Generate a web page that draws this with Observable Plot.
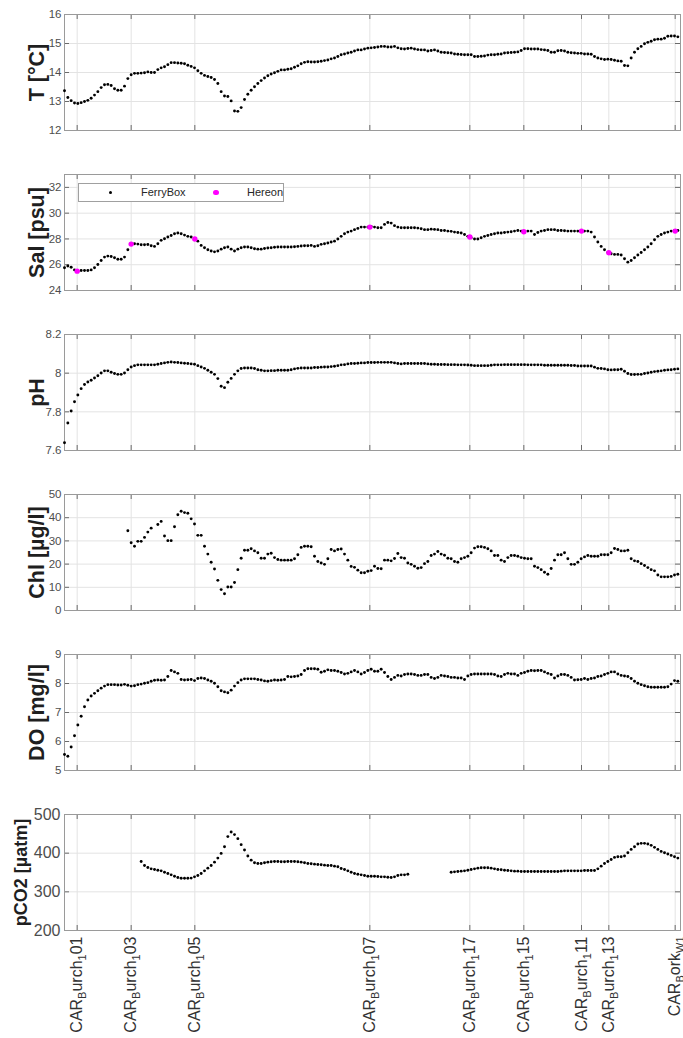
<!DOCTYPE html>
<html><head><meta charset="utf-8">
<script src="https://cdn.jsdelivr.net/npm/d3@7"></script>
<script src="https://cdn.jsdelivr.net/npm/@observablehq/plot@0.6"></script>
<style>
body{margin:0;background:#fff;}
#wrap{position:relative;width:683px;height:1038px;overflow:hidden;font-family:"Liberation Sans",Arial,sans-serif;}
#wrap svg{display:block;}
.legend{position:absolute;left:78px;top:183px;width:204px;height:17px;border:1px solid #a0a0a0;background:#fff;font-size:11px;color:#262626;}
.legend .d{position:absolute;border-radius:50%;}
.legend .t{position:absolute;top:2px;}
</style></head><body><div id="wrap"></div>
<script>
// x = sample index along the ferry track
const stationPos = [3.8, 20, 39.1, 91.6, 121.6, 137.8, 155.1, 163.3, 183.2];
const stationLabels = ["CAR_{B}urch_{1}01","CAR_{B}urch_{1}03","CAR_{B}urch_{1}05","CAR_{B}urch_{1}07","CAR_{B}urch_{1}17","CAR_{B}urch_{1}15","CAR_{B}urch_{1}11","CAR_{B}urch_{1}13","CAR_{B}ork_{W1}"];
const hereonSal = [25.5, 27.6, 28.0, 28.92, 28.15, 28.56, 28.61, 26.93, 28.61];

const temp = [13.37,13.14,13.03,12.95,12.93,12.96,13.0,13.04,13.11,13.22,
13.34,13.48,13.58,13.59,13.55,13.44,13.39,13.39,13.53,13.79,
13.92,13.97,13.97,13.98,13.99,14.02,14.0,14.0,14.1,14.16,
14.2,14.27,14.34,14.34,14.33,14.32,14.3,14.25,14.21,14.16,
14.06,13.97,13.9,13.86,13.83,13.76,13.62,13.34,13.19,13.17,
13.02,12.67,12.66,12.79,13.07,13.25,13.39,13.51,13.62,13.72,
13.81,13.89,13.95,13.99,14.04,14.09,14.09,14.11,14.13,14.18,
14.23,14.3,14.35,14.37,14.36,14.36,14.37,14.39,14.41,14.43,
14.47,14.5,14.55,14.61,14.64,14.67,14.7,14.74,14.78,14.78,
14.81,14.84,14.85,14.86,14.88,14.9,14.9,14.88,14.88,14.9,
14.85,14.82,14.81,14.83,14.84,14.81,14.79,14.78,14.78,14.74,
14.76,14.78,14.74,14.7,14.69,14.68,14.67,14.64,14.63,14.62,
14.61,14.61,14.61,14.55,14.55,14.56,14.57,14.6,14.61,14.61,
14.63,14.64,14.67,14.68,14.69,14.7,14.71,14.76,14.82,14.82,
14.81,14.81,14.81,14.79,14.78,14.76,14.7,14.7,14.75,14.76,
14.74,14.7,14.68,14.67,14.66,14.66,14.64,14.64,14.63,14.55,
14.5,14.47,14.45,14.46,14.45,14.42,14.4,14.39,14.24,14.23,
14.5,14.7,14.82,14.9,14.99,15.04,15.08,15.13,15.15,15.15,
15.18,15.25,15.26,15.26,15.23];

const sal = [25.76,25.9,25.8,25.6,25.5,25.55,25.55,25.55,25.6,25.76,
26.02,26.33,26.59,26.67,26.64,26.54,26.43,26.43,26.59,27.16,
27.63,27.63,27.6,27.55,27.55,27.57,27.47,27.42,27.63,27.89,
28.02,28.15,28.27,28.4,28.46,28.4,28.3,28.2,28.15,27.99,
27.83,27.5,27.32,27.16,27.06,27.0,27.06,27.21,27.32,27.37,
27.21,27.06,27.21,27.32,27.37,27.37,27.32,27.24,27.21,27.21,
27.26,27.3,27.32,27.35,27.37,27.37,27.37,27.37,27.37,27.4,
27.42,27.45,27.47,27.47,27.5,27.42,27.47,27.58,27.63,27.68,
27.76,27.83,27.99,28.2,28.4,28.53,28.61,28.72,28.82,28.92,
28.92,28.92,28.97,28.92,28.87,28.87,29.13,29.28,29.23,29.03,
28.92,28.87,28.87,28.87,28.87,28.87,28.84,28.79,28.72,28.72,
28.76,28.74,28.72,28.66,28.66,28.61,28.59,28.53,28.5,28.46,
28.35,28.2,28.09,27.99,27.99,28.09,28.2,28.27,28.35,28.4,
28.46,28.46,28.5,28.53,28.56,28.61,28.66,28.61,28.56,28.61,
28.61,28.35,28.5,28.61,28.66,28.72,28.72,28.72,28.66,28.66,
28.64,28.61,28.61,28.61,28.61,28.61,28.61,28.61,28.53,28.15,
27.76,27.42,27.16,26.95,26.85,26.8,26.8,26.75,26.46,26.2,
26.33,26.54,26.75,26.95,27.16,27.37,27.63,27.94,28.2,28.35,
28.46,28.53,28.61,28.66,28.66];

const ph = [7.64,7.742,7.804,7.852,7.887,7.92,7.941,7.954,7.963,7.975,
7.987,8.001,8.012,8.012,8.005,7.998,7.994,7.994,8.001,8.018,
8.032,8.039,8.043,8.043,8.043,8.043,8.043,8.043,8.046,8.05,
8.053,8.056,8.058,8.056,8.055,8.053,8.051,8.05,8.048,8.046,
8.039,8.032,8.025,8.015,8.005,7.994,7.972,7.932,7.925,7.953,
7.973,7.994,8.012,8.024,8.027,8.027,8.027,8.024,8.018,8.015,
8.012,8.012,8.013,8.013,8.015,8.015,8.015,8.015,8.018,8.022,
8.025,8.027,8.027,8.027,8.027,8.029,8.029,8.031,8.032,8.032,
8.034,8.036,8.039,8.043,8.044,8.048,8.05,8.05,8.051,8.053,
8.053,8.055,8.055,8.055,8.056,8.056,8.056,8.056,8.056,8.053,
8.05,8.048,8.05,8.05,8.05,8.05,8.05,8.05,8.05,8.048,
8.046,8.046,8.045,8.045,8.045,8.044,8.044,8.044,8.043,8.043,
8.043,8.042,8.041,8.039,8.039,8.039,8.039,8.039,8.041,8.043,
8.043,8.043,8.044,8.044,8.044,8.044,8.044,8.044,8.044,8.043,
8.043,8.043,8.043,8.043,8.041,8.041,8.041,8.041,8.041,8.041,
8.041,8.041,8.04,8.04,8.037,8.037,8.037,8.037,8.037,8.031,
8.025,8.024,8.022,8.018,8.017,8.018,8.018,8.02,8.01,7.998,
7.993,7.993,7.994,7.994,7.998,8.001,8.005,8.008,8.01,8.012,
8.015,8.017,8.018,8.02,8.022];

const chl = [null,null,null,null,null,null,null,null,null,null,
null,null,null,null,null,null,null,null,null,34.4,
29.2,27.7,29.8,29.8,31.5,33.8,35.5,null,37.1,38.4,
32.1,30.1,30.1,36.1,41.3,42.8,42.2,41.9,39.5,37.3,
32.4,32.4,27.7,24.3,20.8,17.9,13.0,9.0,7.2,10.1,
10.1,12.1,17.6,22.5,26.0,26.0,26.6,25.7,24.9,22.5,
22.5,24.3,24.7,22.8,22.0,21.7,21.7,21.7,21.7,22.3,
24.0,27.2,27.7,27.7,27.5,23.4,21.1,20.5,19.9,22.3,
26.3,25.7,26.3,26.5,24.3,21.7,19.0,18.6,17.4,16.3,
16.3,16.9,17.2,19.1,18.1,18.0,21.7,21.7,21.4,22.4,
24.6,22.8,22.5,20.5,19.9,19.1,18.2,18.5,20.2,21.1,
23.7,24.3,25.4,24.3,23.8,22.5,22.3,21.1,20.8,22.3,
22.8,23.4,24.9,26.9,27.5,27.5,27.2,26.6,25.7,23.7,
23.7,21.7,21.1,22.8,23.7,23.7,23.4,22.8,22.5,22.3,
22.3,19.1,18.5,17.6,16.5,15.6,18.1,21.7,24.0,24.0,
24.9,22.3,19.9,19.9,20.8,22.3,23.1,23.7,23.4,23.4,
23.4,24.0,24.0,24.0,24.9,26.7,26.3,25.7,25.7,26.0,
22.3,21.4,21.1,20.2,19.4,18.5,17.6,17.1,15.3,14.5,
14.5,14.5,14.7,15.3,15.6];

const oxy = [5.55,5.49,5.81,6.2,6.57,6.87,7.2,7.43,7.57,7.66,
7.75,7.84,7.91,7.96,7.96,7.96,7.95,7.95,7.97,7.94,
7.91,7.92,7.96,7.98,8.01,8.03,8.08,8.11,8.12,8.11,
8.12,8.24,8.45,8.4,8.35,8.14,8.12,8.13,8.14,8.1,
8.17,8.19,8.17,8.12,8.08,8.01,7.89,7.75,7.71,7.68,
7.77,7.91,8.03,8.12,8.16,8.16,8.16,8.16,8.14,8.12,
8.09,8.08,8.1,8.12,8.11,8.12,8.14,8.24,8.23,8.24,
8.26,8.31,8.45,8.51,8.51,8.51,8.49,8.39,8.42,8.47,
8.45,8.45,8.42,8.38,8.33,8.35,8.4,8.45,8.4,8.33,
8.38,8.45,8.49,8.42,8.42,8.49,8.38,8.24,8.14,8.21,
8.28,8.26,8.31,8.33,8.33,8.31,8.28,8.28,8.31,8.31,
8.21,8.17,8.21,8.28,8.26,8.24,8.21,8.21,8.19,8.19,
8.14,8.26,8.31,8.33,8.33,8.33,8.33,8.33,8.33,8.31,
8.26,8.24,8.31,8.35,8.33,8.33,8.28,8.35,8.38,8.42,
8.45,8.44,8.45,8.45,8.4,8.35,8.31,8.19,8.26,8.31,
8.31,8.28,8.21,8.12,8.13,8.14,8.17,8.14,8.17,8.19,
8.24,8.26,8.31,8.35,8.4,8.4,8.33,8.28,8.26,8.24,
8.17,8.08,8.01,7.96,7.92,7.89,7.87,7.87,7.87,7.87,
7.87,7.89,7.98,8.1,8.08];

const pco2 = [null,null,null,null,null,null,null,null,null,null,
null,null,null,null,null,null,null,null,null,null,
null,null,null,378.6,368,363,359.5,357.8,356,354.3,
350.8,347.4,343.9,340.4,337,335.2,335,335,335.5,338.7,
342.2,347.4,354.3,361.2,368.2,376.8,387.3,399.4,416.7,442.8,
454.9,448,437.6,422,408,392.5,382,375.1,373.4,373.4,
375.1,376.8,377.7,378.6,378.6,377.7,377.7,378.6,378.6,378.6,
377.7,376.8,375.1,373.4,372.5,371.6,370.8,369.9,369,368.2,
368.2,366.4,364.7,360.5,357.8,354.3,350.8,347.4,345.6,343.9,
342.2,340.4,340.4,340.4,339.5,338.7,338.7,337.8,337,338.7,
342.2,343.9,343.9,345.6,null,null,null,null,null,null,
null,null,null,null,null,null,350.8,351.7,352.6,353.5,
354.3,356,357.8,359.5,361.2,362.1,362.1,362.1,361.2,359.5,
357.8,357,356,355.2,354.3,353.5,353.5,352.6,352.6,352.6,
352.6,352.6,352.6,352.6,352.6,352.6,352.6,352.6,352.6,353.5,
354.3,354.3,354.3,354.3,354.3,354.3,355.2,355.2,355.2,355.2,
359.5,366.4,373.4,378.6,383.8,389,390.7,390.7,392.5,401.1,
409.8,416.7,423.7,425.4,425.4,423.7,420.2,415,409.8,404.6,
401.1,397.7,394.2,390.7,387.3];

const panels = [
  {values: temp, domain:[12,16], ticks:[12,13,14,15,16], label:"T [°C]"},
  {values: sal, domain:[24,33], ticks:[24,26,28,30,32], label:"Sal [psu]", hereon:true},
  {values: ph, domain:[7.6,8.2], ticks:[7.6,7.8,8,8.2], label:"pH"},
  {values: chl, domain:[0,50], ticks:[0,10,20,30,40,50], label:"Chl [µg/l]"},
  {values: oxy, domain:[5,9], ticks:[5,6,7,8,9], label:"DO [mg/l]"},
  {values: pco2, domain:[200,500], ticks:[200,300,400,500], label:"pCO2 [µatm]", last:true}
];

const W = 683, ML = 64, MR = 3, PH = 116, MT = 14;
const plotW = W - ML - MR;
const wrap = document.getElementById("wrap");

for (const p of panels) {
  const h = p.last ? 238 : 160;
  const mb = h - MT - PH;
  const data = p.values.map((v, i) => ({i, v})).filter(d => d.v != null);
  const tickFont = p.last ? 16 : 11.5;
  const marks = [
    Plot.gridX(stationPos, {stroke:"#e3e3e3", strokeOpacity:1}),
    Plot.gridY(p.ticks, {stroke:"#e3e3e3", strokeOpacity:1}),
    Plot.tickX(stationPos, {insetTop: PH - 5, stroke:"#6a6a6a"}),
    Plot.tickX(stationPos, {insetBottom: PH - 5, stroke:"#6a6a6a"}),
    Plot.tickY(p.ticks, {insetRight: plotW - 5, stroke:"#6a6a6a"}),
    Plot.tickY(p.ticks, {insetLeft: plotW - 5, stroke:"#6a6a6a"}),
    Plot.frame({stroke:"#9a9a9a"}),
    Plot.axisY(p.ticks, {tickSize:0, tickPadding: p.last ? 4 : 3, fontSize:tickFont, fill:"#4d4d4d", label:null, tickFormat: d => String(d)}),
    Plot.dot(data, {x:"i", y:"v", r:1.45, fill:"#000", stroke:null})
  ];
  if (p.hereon) {
    const hd = stationPos.map((x, k) => ({x, v: hereonSal[k]}));
    marks.push(Plot.dot(hd, {x:"x", y:"v", r:2.7, fill:"#ff00ff", stroke:null}));
  }
  marks.push(Plot.text([p.label], {frameAnchor:"left", rotate:-90, dx: p.last ? -43 : -27.5,
    textAnchor:"middle", lineAnchor:"middle",
    fontSize: p.last ? 18 : 21.5, fontWeight:"bold", fill:"#1f1f1f", text: d => d}));
  if (p.last) {
    marks.push(Plot.axisX(stationPos, {tickSize:0, tickPadding:6, tickRotate:-90, fontSize:16, fill:"#333",
      label:null, tickFormat: d => stationLabels[stationPos.indexOf(d)]}));
  }
  const chart = Plot.plot({
    width: W, height: h, marginLeft: ML, marginRight: MR, marginTop: MT, marginBottom: mb,
    x: p.last ? {domain:[0,184.8]} : {domain:[0,184.8], axis:null},
    y: {domain: p.domain},
    style: {fontFamily: "'Liberation Sans', Arial, sans-serif", background:"#fff"},
    marks
  });
  wrap.appendChild(chart);
  if (p.last) {
    chart.querySelectorAll('g[aria-label="x-axis tick label"] text').forEach(t => {
      const s = t.textContent;
      t.textContent = "";
      const parts = s.split(/(_\{[^}]*\})/).filter(x => x.length);
      let shifted = false;
      for (const part of parts) {
        const ts = document.createElementNS("http://www.w3.org/2000/svg", "tspan");
        if (part.startsWith("_{")) {
          ts.textContent = part.slice(2, -1);
          ts.setAttribute("font-size", "11");
          ts.setAttribute("dy", shifted ? "0" : "4");
          shifted = true;
        } else {
          ts.textContent = part;
          if (shifted) { ts.setAttribute("dy", "-4"); shifted = false; }
        }
        t.appendChild(ts);
      }
    });
  }
}

// legend of the salinity panel
const lg = document.createElement("div");
lg.className = "legend";
lg.innerHTML = '<span class="d" style="left:30px;top:7px;width:3px;height:3px;background:#000"></span>' +
  '<span class="t" style="left:62px">FerryBox</span>' +
  '<span class="d" style="left:134px;top:5.5px;width:5.5px;height:5.5px;background:#ff00ff"></span>' +
  '<span class="t" style="left:168px">Hereon</span>';
wrap.appendChild(lg);
</script>
</body></html>
